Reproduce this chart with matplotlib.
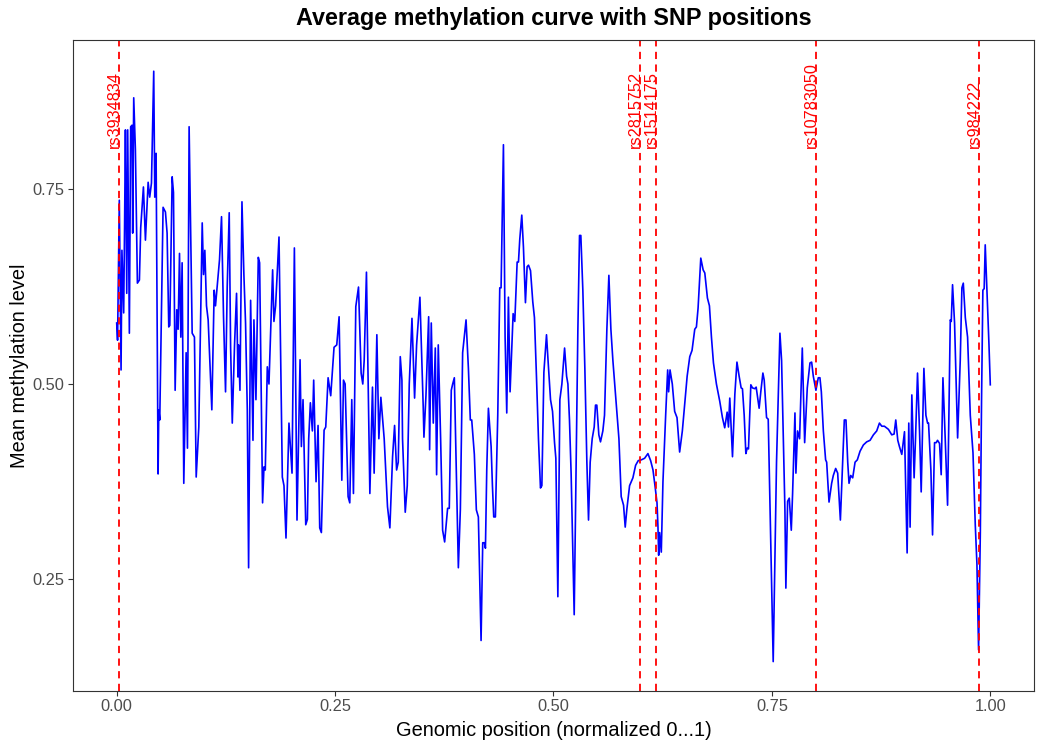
import matplotlib.pyplot as plt

# mean methylation along the normalised region
pos = [
    0.000, 0.001, 0.003, 0.005, 0.006, 0.008, 0.009, 0.010, 0.0115, 0.0126,
    0.0145, 0.016, 0.0176, 0.0183, 0.0195, 0.0214, 0.0237, 0.026, 0.0275, 0.0306,
    0.0329, 0.036, 0.0378, 0.0398, 0.0424, 0.0436, 0.0451, 0.0462, 0.0474, 0.0482,
    0.0493, 0.0531, 0.0558, 0.0577, 0.0596, 0.0608, 0.0635, 0.065, 0.0669, 0.0688,
    0.0703, 0.0719, 0.0734, 0.0749, 0.0768, 0.0795, 0.081, 0.0829, 0.0864, 0.089,
    0.091, 0.094, 0.0979, 0.0994, 0.1009, 0.1028, 0.1047, 0.1089, 0.1116, 0.1131,
    0.1177, 0.120, 0.1223, 0.1246, 0.1265, 0.1288, 0.1304, 0.1323, 0.1349, 0.1372,
    0.1388, 0.1395, 0.1411, 0.1434, 0.1456, 0.1475, 0.1495, 0.151, 0.1533, 0.156,
    0.1571, 0.1594, 0.1621, 0.1636, 0.167, 0.1686, 0.1701, 0.1724, 0.1743, 0.1785,
    0.180, 0.1819, 0.1858, 0.1896, 0.1915, 0.1938, 0.1972, 0.2007, 0.2034, 0.2064,
    0.2099, 0.2114, 0.2133, 0.2164, 0.2183, 0.2198, 0.2217, 0.224, 0.2255, 0.2282,
    0.2305, 0.2324, 0.2343, 0.2374, 0.2393, 0.242, 0.245, 0.2488, 0.2519, 0.2546,
    0.2577, 0.2596, 0.2615, 0.2649, 0.2668, 0.2691, 0.271, 0.2737, 0.2768, 0.2798,
    0.2817, 0.2833, 0.2859, 0.2898, 0.2928, 0.2947, 0.2978, 0.3001, 0.3024, 0.3062,
    0.310, 0.3127, 0.3158, 0.3181, 0.3204, 0.3223, 0.3246, 0.3265, 0.3272, 0.3303,
    0.3326, 0.3349, 0.338, 0.341, 0.3433, 0.3471, 0.3509, 0.3517, 0.354, 0.3571,
    0.3582, 0.3601, 0.3624, 0.3647, 0.3662, 0.3681, 0.3708, 0.3731, 0.3754, 0.3788,
    0.3807, 0.383, 0.3846, 0.3865, 0.3911, 0.3934, 0.396, 0.3999, 0.4026, 0.4048,
    0.4064, 0.4094, 0.4117, 0.414, 0.4171, 0.419, 0.4209, 0.4221, 0.4236, 0.4255,
    0.4286, 0.4301, 0.4316, 0.4335, 0.4362, 0.4385, 0.440, 0.4427, 0.4446, 0.4465,
    0.4484, 0.4503, 0.4538, 0.4557, 0.4584, 0.4599, 0.4614, 0.4637, 0.4656, 0.4679,
    0.4698, 0.4714, 0.4737, 0.4763, 0.4782, 0.4805, 0.4828, 0.4851, 0.4867, 0.489,
    0.492, 0.4935, 0.4966, 0.4989, 0.5012, 0.5027, 0.505, 0.5073, 0.5096, 0.5127,
    0.515, 0.5165, 0.5183, 0.5202, 0.5237, 0.526, 0.5279, 0.5298, 0.5313, 0.5336,
    0.5359, 0.5382, 0.5401, 0.542, 0.5443, 0.5466, 0.5481, 0.5496, 0.5519, 0.5538,
    0.5565, 0.5584, 0.5611, 0.5634, 0.5657, 0.568, 0.5718, 0.5749, 0.5775, 0.5802,
    0.5821, 0.584, 0.5871, 0.5909, 0.594, 0.597, 0.6005, 0.6043, 0.6081, 0.6112,
    0.6139, 0.6165, 0.6185, 0.6196, 0.6204, 0.6215, 0.6234, 0.6253, 0.6284, 0.6307,
    0.6318, 0.6334, 0.636, 0.6387, 0.6414, 0.6444, 0.6475, 0.653, 0.656, 0.6586,
    0.6617, 0.6636, 0.6655, 0.6686, 0.6713, 0.6732, 0.6762, 0.6785, 0.6808, 0.6831,
    0.6865, 0.6903, 0.6934, 0.696, 0.6988, 0.7003, 0.7018, 0.7049, 0.7076, 0.710,
    0.7125, 0.7148, 0.7163, 0.7183, 0.7202, 0.7217, 0.7232, 0.7259, 0.7278, 0.7305,
    0.732, 0.7354, 0.7373, 0.7397, 0.7412, 0.7439, 0.7458, 0.7515, 0.7553, 0.7592,
    0.7611, 0.7649, 0.766, 0.768, 0.7699, 0.7722, 0.7737, 0.7764, 0.7775, 0.7794,
    0.7817, 0.7848, 0.7875, 0.7905, 0.7936, 0.7955, 0.7974, 0.8004, 0.8031, 0.805,
    0.8066, 0.8089, 0.8115, 0.8127, 0.8154, 0.8184, 0.8203, 0.823, 0.8253, 0.8284,
    0.831, 0.8329, 0.8348, 0.8368, 0.8383, 0.8402, 0.8425, 0.8452, 0.8478, 0.8509,
    0.8547, 0.8585, 0.8624, 0.8662, 0.870, 0.8731, 0.8758, 0.8788, 0.8834, 0.8872,
    0.8899, 0.8918, 0.8941, 0.896, 0.8987, 0.9018, 0.9048, 0.9067, 0.9082, 0.9102,
    0.9128, 0.9144, 0.9167, 0.919, 0.9209, 0.924, 0.9263, 0.9282, 0.9293, 0.932,
    0.9339, 0.9362, 0.9381, 0.9396, 0.9419, 0.9438, 0.9458, 0.9484, 0.9511, 0.9542,
    0.9553, 0.9568, 0.9591, 0.9626, 0.9656, 0.9675, 0.9691, 0.9714, 0.974, 0.9771,
    0.9802, 0.9828, 0.9847, 0.9866, 0.9886, 0.990, 0.9915, 0.993, 0.9942, 0.9965,
    0.9985, 1.000,
]
meth = [
    0.578, 0.556, 0.735, 0.518, 0.671, 0.591, 0.700, 0.825, 0.616, 0.825,
    0.565, 0.829, 0.831, 0.693, 0.866, 0.800, 0.629, 0.633, 0.700, 0.752,
    0.684, 0.758, 0.739, 0.757, 0.900, 0.739, 0.795, 0.598, 0.385, 0.467,
    0.454, 0.726, 0.720, 0.693, 0.573, 0.575, 0.765, 0.745, 0.492, 0.595,
    0.570, 0.667, 0.560, 0.655, 0.373, 0.540, 0.418, 0.829, 0.565, 0.560,
    0.381, 0.445, 0.706, 0.640, 0.671, 0.600, 0.582, 0.467, 0.620, 0.600,
    0.659, 0.714, 0.586, 0.490, 0.624, 0.719, 0.547, 0.450, 0.550, 0.616,
    0.509, 0.550, 0.492, 0.733, 0.640, 0.578, 0.467, 0.265, 0.607, 0.428,
    0.582, 0.480, 0.662, 0.655, 0.348, 0.394, 0.390, 0.522, 0.500, 0.646,
    0.580, 0.600, 0.688, 0.381, 0.370, 0.303, 0.450, 0.386, 0.674, 0.326,
    0.531, 0.420, 0.480, 0.320, 0.327, 0.430, 0.476, 0.440, 0.505, 0.375,
    0.447, 0.316, 0.310, 0.441, 0.445, 0.508, 0.485, 0.547, 0.550, 0.586,
    0.377, 0.505, 0.500, 0.356, 0.348, 0.480, 0.360, 0.599, 0.624, 0.514,
    0.500, 0.530, 0.643, 0.360, 0.496, 0.386, 0.563, 0.430, 0.483, 0.430,
    0.343, 0.316, 0.407, 0.447, 0.390, 0.400, 0.535, 0.505, 0.430, 0.336,
    0.370, 0.500, 0.584, 0.482, 0.550, 0.611, 0.470, 0.432, 0.485, 0.586,
    0.416, 0.578, 0.450, 0.546, 0.384, 0.550, 0.430, 0.313, 0.298, 0.341,
    0.341, 0.492, 0.500, 0.508, 0.265, 0.340, 0.540, 0.582, 0.520, 0.454,
    0.454, 0.410, 0.339, 0.330, 0.172, 0.297, 0.297, 0.290, 0.390, 0.469,
    0.420, 0.370, 0.330, 0.330, 0.460, 0.623, 0.623, 0.806, 0.560, 0.463,
    0.611, 0.490, 0.590, 0.580, 0.656, 0.656, 0.685, 0.716, 0.675, 0.604,
    0.650, 0.652, 0.645, 0.605, 0.585, 0.510, 0.430, 0.367, 0.370, 0.515,
    0.563, 0.535, 0.480, 0.465, 0.425, 0.405, 0.228, 0.480, 0.500, 0.546,
    0.510, 0.500, 0.454, 0.385, 0.205, 0.400, 0.569, 0.690, 0.690, 0.620,
    0.520, 0.400, 0.326, 0.400, 0.430, 0.445, 0.473, 0.473, 0.435, 0.426,
    0.440, 0.460, 0.570, 0.639, 0.570, 0.530, 0.475, 0.430, 0.356, 0.345,
    0.317, 0.340, 0.370, 0.380, 0.396, 0.402, 0.403, 0.405, 0.411, 0.402,
    0.390, 0.367, 0.348, 0.317, 0.281, 0.310, 0.285, 0.375, 0.460, 0.518,
    0.490, 0.518, 0.500, 0.465, 0.457, 0.413, 0.440, 0.510, 0.535, 0.543,
    0.570, 0.573, 0.597, 0.661, 0.646, 0.642, 0.610, 0.600, 0.560, 0.527,
    0.500, 0.478, 0.457, 0.444, 0.464, 0.445, 0.482, 0.407, 0.487, 0.528,
    0.510, 0.495, 0.494, 0.460, 0.411, 0.418, 0.417, 0.499, 0.495, 0.494,
    0.496, 0.469, 0.490, 0.514, 0.505, 0.457, 0.455, 0.145, 0.400, 0.565,
    0.530, 0.340, 0.239, 0.350, 0.354, 0.313, 0.360, 0.463, 0.386, 0.440,
    0.430, 0.546, 0.425, 0.495, 0.527, 0.528, 0.510, 0.492, 0.508, 0.508,
    0.490, 0.440, 0.403, 0.400, 0.349, 0.373, 0.383, 0.392, 0.386, 0.326,
    0.400, 0.454, 0.454, 0.400, 0.373, 0.383, 0.380, 0.400, 0.403, 0.414,
    0.422, 0.426, 0.428, 0.435, 0.440, 0.450, 0.446, 0.446, 0.442, 0.435,
    0.436, 0.454, 0.428, 0.420, 0.410, 0.439, 0.284, 0.450, 0.317, 0.486,
    0.380, 0.430, 0.514, 0.440, 0.362, 0.520, 0.460, 0.450, 0.450, 0.390,
    0.307, 0.425, 0.425, 0.428, 0.424, 0.384, 0.508, 0.430, 0.345, 0.582,
    0.580, 0.627, 0.578, 0.431, 0.530, 0.623, 0.629, 0.585, 0.560, 0.460,
    0.412, 0.320, 0.270, 0.160, 0.310, 0.480, 0.620, 0.622, 0.678, 0.610,
    0.550, 0.499,
]

snp_ids = ["rs3934834", "rs2815752", "rs1514175", "rs10783050", "rs984222"]
snp_pos = [0.0023, 0.5986, 0.617, 0.8005, 0.9866]

plt.rcParams['font.family'] = ['Liberation Sans', 'DejaVu Sans']

fig = plt.figure(figsize=(10.46, 7.5), dpi=100)
ax = fig.add_axes([0.0698, 0.0787, 0.9187, 0.868])

ax.plot(pos, meth, color='blue', lw=1.2)
for name, p in zip(snp_ids, snp_pos):
    ax.axvline(p, color='red', ls=(0, (4, 3)), lw=1.3)
    ax.annotate(name, (p, 0.80), xytext=(-3, 1), textcoords='offset points',
                rotation=90, ha='center', va='bottom', color='red', fontsize=11.7)

ax.set_xlim(-0.05, 1.05)
ax.set_ylim(0.1074, 0.94)
ax.set_xticks([0, 0.25, 0.5, 0.75, 1.0])
ax.set_xticklabels(["0.00", "0.25", "0.50", "0.75", "1.00"])
ax.set_yticks([0.25, 0.5, 0.75])
ax.set_yticklabels(["0.25", "0.50", "0.75"])
ax.tick_params(colors='#333333', labelcolor='#4d4d4d', labelsize=11.8,
               length=3.5, width=0.8, pad=2.5)
for s in ax.spines.values():
    s.set_color('#333333')
    s.set_linewidth(0.8)

ax.set_xlabel("Genomic position (normalized 0...1)", fontsize=14.4, labelpad=5)
ax.set_ylabel("Mean methylation level", fontsize=14.4, labelpad=3)
ax.set_title("Average methylation curve with SNP positions", fontsize=16.8,
             fontweight='bold', pad=11)

fig.savefig("out.png", dpi=100)
